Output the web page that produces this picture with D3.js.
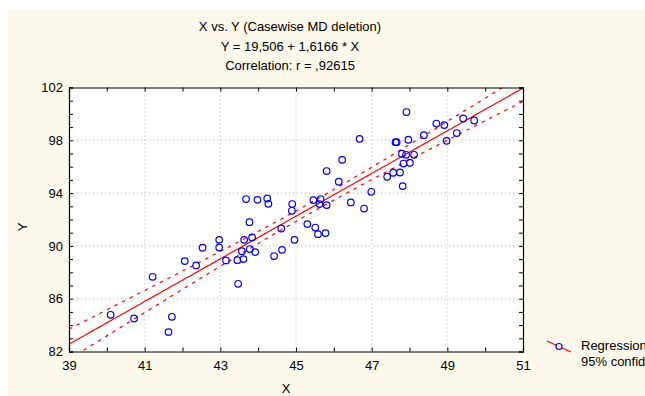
<!DOCTYPE html>
<html>
<head>
<meta charset="utf-8">
<script src="https://cdn.jsdelivr.net/npm/d3@7"></script>
<style>
  body { margin: 0; background: #fff; }
  svg { display: block; font-family: "Liberation Sans", Arial, sans-serif; }
  .tick text { font-size: 13px; fill: #000; }
</style>
</head>
<body>
<div id="chart"></div>
<script>
// points (X, Y)
const xValues = [
  40.10, 40.72, 41.21, 41.72, 41.63, 42.06, 42.36, 42.53, 42.97, 42.97,
  43.15, 43.47, 43.45, 43.61, 43.57, 43.63, 43.68, 43.77, 43.78, 43.84,
  43.92, 43.98, 44.24, 44.27, 44.42, 44.61, 44.63, 44.90, 44.89, 44.96,
  45.30, 45.46, 45.51, 45.58, 45.78, 45.62, 45.65, 45.81, 45.81, 46.13,
  46.22, 46.45, 46.68, 46.80, 46.99, 47.41, 47.57, 47.75, 47.66, 47.63,
  47.82, 47.80, 47.91, 47.84, 48.01, 48.12, 47.92, 47.97, 48.38, 48.71,
  48.92, 48.98, 49.25, 49.42, 49.71
];
const yValues = [
  84.78, 84.50, 87.66, 84.63, 83.47, 88.85, 88.52, 89.86, 89.88, 90.46,
  88.90, 87.13, 88.92, 89.00, 89.60, 90.46, 93.55, 91.80, 89.76, 90.64,
  89.53, 93.49, 93.59, 93.19, 89.23, 91.32, 89.70, 93.17, 92.66, 90.46,
  91.65, 93.47, 91.39, 90.89, 90.97, 93.17, 93.55, 93.09, 95.67, 94.86,
  96.52, 93.29, 98.11, 92.83, 94.10, 95.24, 95.54, 95.56, 97.86, 97.86,
  94.53, 96.98, 96.90, 96.24, 96.30, 96.90, 100.14, 98.04, 98.39, 99.27,
  99.15, 97.96, 98.55, 99.65, 99.50
];

// fitted line from the chart title
const intercept = 19.506;
const slope = 1.6166;

const titleLines = ["X vs. Y (Casewise MD deletion)", "Y = 19,506 + 1,6166 * X", "Correlation: r = ,92615"];
const xTicks = d3.range(39, 52, 1);
const yTicks = d3.range(82, 103, 1);
const legendLabels = ["Regression", "95% confid."];

const width = 645, height = 396;
const plot = { left: 69, right: 523, top: 87.5, bottom: 351.5 };

const svg = d3.select("#chart").append("svg")
  .attr("width", width)
  .attr("height", height);

// cream panel
svg.append("rect")
  .attr("x", 8).attr("y", 10)
  .attr("width", width - 8).attr("height", height - 10)
  .attr("fill", "#fdf8ec");

svg.append("rect")
  .attr("x", plot.left).attr("y", plot.top)
  .attr("width", plot.right - plot.left).attr("height", plot.bottom - plot.top)
  .attr("fill", "#fff");

const x = d3.scaleLinear().domain([39, 51]).range([plot.left, plot.right]);
const y = d3.scaleLinear().domain([82, 102]).range([plot.bottom, plot.top]);

// grid
svg.append("g").selectAll("line")
  .data(xTicks.filter(d => d % 2 === 1 && d > 39 && d < 51))
  .join("line")
  .attr("x1", d => x(d)).attr("x2", d => x(d))
  .attr("y1", plot.top).attr("y2", plot.bottom)
  .attr("stroke", "#b4b4b4").attr("stroke-dasharray", "1,3");

svg.append("g").selectAll("line")
  .data(yTicks.filter(d => d % 4 === 2 && d > 82 && d < 102))
  .join("line")
  .attr("x1", plot.left).attr("x2", plot.right)
  .attr("y1", d => y(d)).attr("y2", d => y(d))
  .attr("stroke", "#b4b4b4").attr("stroke-dasharray", "1,3");

// regression line + 95% confidence band
const n = xValues.length;
const xMean = d3.mean(xValues);
const sxx = d3.sum(xValues, v => (v - xMean) ** 2);
const sse = d3.sum(xValues, (v, i) => (yValues[i] - (intercept + slope * v)) ** 2);
const s = Math.sqrt(sse / (n - 2));
const tCrit = 1.999;
const fit = v => intercept + slope * v;
const half = v => tCrit * s * Math.sqrt(1 / n + (v - xMean) ** 2 / sxx);

svg.append("clipPath").attr("id", "clip")
  .append("rect")
  .attr("x", plot.left).attr("y", plot.top)
  .attr("width", plot.right - plot.left).attr("height", plot.bottom - plot.top);

const grid = d3.range(39, 51.01, 0.1);
const lines = svg.append("g").attr("clip-path", "url(#clip)");
const lineGen = f => d3.line().x(d => x(d)).y(d => y(f(d)));

lines.append("path").datum(grid)
  .attr("d", lineGen(fit))
  .attr("fill", "none").attr("stroke", "#ff0000").attr("stroke-width", 1.2);

[1, -1].forEach(sign => {
  lines.append("path").datum(grid)
    .attr("d", lineGen(v => fit(v) + sign * half(v)))
    .attr("fill", "none").attr("stroke", "#ff0000").attr("stroke-width", 1.2)
    .attr("stroke-dasharray", "3.5,5");
});

// points
svg.append("g").selectAll("circle")
  .data(xValues.map((v, i) => [v, yValues[i]]))
  .join("circle")
  .attr("cx", d => x(d[0])).attr("cy", d => y(d[1]))
  .attr("r", 3.3)
  .attr("fill", "none").attr("stroke", "#0000ff").attr("stroke-width", 1.2);

// axes (inward ticks on all four sides)
svg.append("g")
  .attr("transform", `translate(0, ${plot.bottom})`)
  .call(d3.axisBottom(x).tickValues(xTicks).tickSize(-4).tickPadding(9)
    .tickFormat(d => d % 2 === 1 ? d : ""));

svg.append("g")
  .attr("transform", `translate(${plot.left}, 0)`)
  .call(d3.axisLeft(y).tickValues(yTicks).tickSize(-4).tickPadding(6)
    .tickFormat(d => d % 4 === 2 ? d : ""));

svg.append("g")
  .attr("transform", `translate(0, ${plot.top})`)
  .call(d3.axisTop(x).tickValues(xTicks).tickSize(-4).tickFormat(""));

svg.append("g")
  .attr("transform", `translate(${plot.right}, 0)`)
  .call(d3.axisRight(y).tickValues(yTicks).tickSize(-4).tickFormat(""));

svg.selectAll(".domain").attr("stroke", "#000").attr("stroke-width", 1.2);
svg.selectAll(".tick line").attr("stroke", "#000");

// titles
svg.append("g").selectAll("text")
  .data(titleLines)
  .join("text")
  .attr("x", 290).attr("y", (d, i) => 31 + i * 19.5)
  .attr("text-anchor", "middle")
  .style("font-size", "13px")
  .text(d => d);

svg.append("text")
  .attr("x", 286).attr("y", 393)
  .attr("text-anchor", "middle")
  .style("font-size", "13px")
  .text("X");

svg.append("text")
  .attr("transform", "translate(27, 227) rotate(-90)")
  .attr("text-anchor", "middle")
  .style("font-size", "13px")
  .text("Y");

// legend
const legend = svg.append("g");
legend.append("line")
  .attr("x1", 547).attr("y1", 341).attr("x2", 571).attr("y2", 352)
  .attr("stroke", "#ff0000").attr("stroke-width", 1.2);
legend.append("circle")
  .attr("cx", 559).attr("cy", 346.5).attr("r", 3)
  .attr("fill", "#fff").attr("stroke", "#0000ff").attr("stroke-width", 1.2);
legend.selectAll("text.legend-text")
  .data(legendLabels)
  .join("text")
  .attr("class", "legend-text")
  .attr("x", 581).attr("y", (d, i) => 350 + i * 15.5)
  .style("font-size", "13px")
  .text(d => d);
</script>
</body>
</html>
